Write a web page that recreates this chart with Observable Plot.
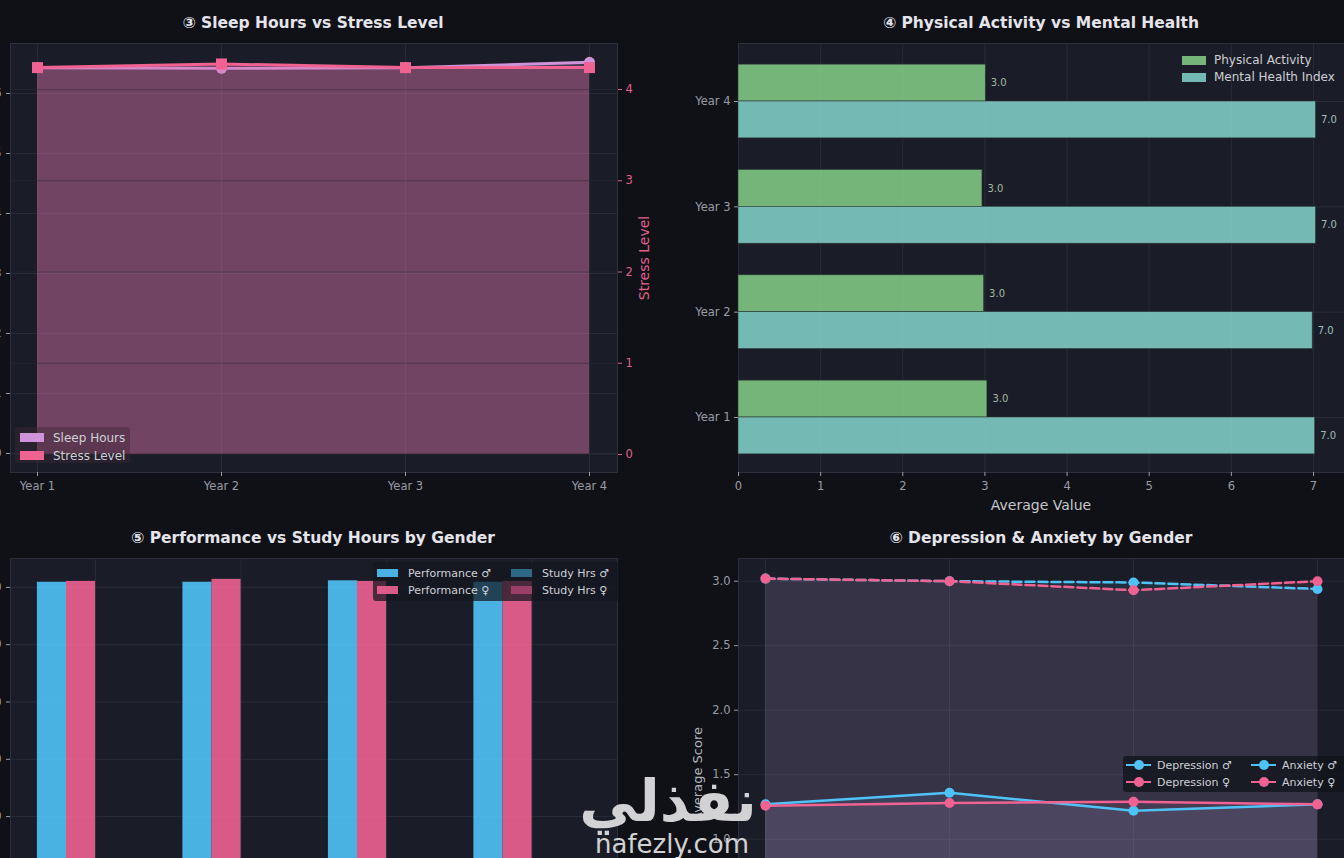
<!DOCTYPE html>
<html><head><meta charset="utf-8">
<script src="https://cdn.jsdelivr.net/npm/d3@7"></script>
<script src="https://cdn.jsdelivr.net/npm/@observablehq/plot@0.6"></script>
<style>
body{margin:0;background:#0f1117;width:1344px;height:858px;overflow:hidden;position:relative;font-family:"DejaVu Sans",sans-serif}
.t{position:absolute;white-space:nowrap;line-height:1}
.title{transform:translate(-50%,-50%);color:#e4e4ea;font-weight:bold;font-size:15.5px}
.lab{transform:translateY(-50%);color:#cfd0d6;font-size:12px}
.box{position:absolute}
</style></head><body>
<script>
// ---------- data ----------
const years = ["Year 1", "Year 2", "Year 3", "Year 4"];
const sleepHours = [6.43, 6.42, 6.43, 6.52];
const stressLevel = [4.24, 4.28, 4.24, 4.24];
const sleepTicks = [0, 1, 2, 3, 4, 5, 6];
const stressTicks = [0, 1, 2, 3, 4];

const physicalActivity = [3.03, 2.99, 2.97, 3.01];
const mentalHealthIndex = [7.02, 6.99, 7.03, 7.03];
const valueTicks = [0, 1, 2, 3, 4, 5, 6, 7];

const performanceMale = [70.9, 70.9, 71.15, 70.9];
const performanceFemale = [71.05, 71.4, 71.05, 71.05];
const performanceTicks = [30, 40, 50, 60, 70];

const depressionMale = [1.27, 1.36, 1.22, 1.27];
const depressionFemale = [1.26, 1.28, 1.29, 1.27];
const anxietyMale = [3.02, 3.0, 2.99, 2.94];
const anxietyFemale = [3.02, 3.0, 2.93, 3.0];
const scoreTicks = [1.0, 1.5, 2.0, 2.5, 3.0];

// ---------- style ----------
const AX_BG = "#1a1d27", FRAME = "#2c303c", GRID = "#2a2e3a";
const LAV = "#ce93d8", PINK = "#f06292", PINK_TXT = "#e0608a";
const GREEN = "#81c784", TEAL = "#80cbc4", BLUE = "#4fc3f7";
const base = {background: "transparent", color: "#9a9ca5", fontFamily: "DejaVu Sans", fontSize: "11.5px"};
const BAR_H = 0.35, BAR_W = 0.2;
const intFmt = d3.format("d");

function place(el, left, top) {
  el.style.position = "absolute"; el.style.left = left + "px"; el.style.top = top + "px";
  el.style.maxWidth = "none"; document.body.appendChild(el);
}
function text(x, y, s, cls, extra) {
  const d = document.createElement("div"); d.className = "t " + cls; d.textContent = s;
  d.style.left = x + "px"; d.style.top = y + "px"; if (extra) Object.assign(d.style, extra);
  document.body.appendChild(d); return d;
}
function rectDiv(x, y, w, h, bg, extra) {
  const d = document.createElement("div"); d.className = "box";
  Object.assign(d.style, {left: x + "px", top: y + "px", width: w + "px", height: h + "px", background: bg}, extra || {});
  document.body.appendChild(d); return d;
}
function lineSwatch(x, y, color) {
  rectDiv(x, y - 1.25, 25, 2.5, color);
  rectDiv(x + 8, y - 5, 10, 10, color, {borderRadius: "50%"});
}

// ---------- panel 3: Sleep vs Stress ----------
const sleepRows = years.map((year, i) => ({year, v: sleepHours[i]}));
const stressRows = years.map((year, i) => ({year, v: stressLevel[i]}));
const p1dims = {width: 672, height: 520, marginLeft: 10, marginRight: 55, marginTop: 43, marginBottom: 48, style: base};
const xYears = {type: "point", domain: years, range: [37, 589], padding: 0};

place(Plot.plot({
  ...p1dims,
  x: xYears,
  y: {domain: [0, 6.8333], range: [453, 43]},
  marks: [
    Plot.frame({fill: AX_BG, stroke: FRAME}),
    Plot.gridY(sleepTicks, {stroke: GRID, strokeOpacity: 0.9}),
    Plot.gridX(years, {stroke: GRID, strokeOpacity: 0.9}),
    Plot.areaY(sleepRows, {x: "year", y: "v", fill: LAV, fillOpacity: 0.25}),
    Plot.axisY(sleepTicks, {anchor: "left", tickSize: 4, tickFormat: intFmt, label: null}),
    Plot.axisX(years, {anchor: "bottom", tickSize: 4, tickPadding: 5, label: null}),
    Plot.lineY(sleepRows, {x: "year", y: "v", stroke: LAV, strokeWidth: 3}),
    Plot.dot(sleepRows, {x: "year", y: "v", fill: LAV, r: 5.5, symbol: "circle"})
  ]
}), 0, 0);

place(Plot.plot({
  ...p1dims,
  x: {...xYears, axis: null},
  y: {domain: [0, 4], range: [454, 89]},
  marks: [
    Plot.areaY(stressRows, {x: "year", y: "v", fill: PINK, fillOpacity: 0.25}),
    Plot.gridY(stressTicks, {stroke: GRID, strokeOpacity: 0.45}),
    Plot.axisY(stressTicks, {anchor: "right", color: PINK_TXT, tickSize: 4, tickPadding: 4, tickFormat: intFmt, label: null}),
    Plot.lineY(stressRows, {x: "year", y: "v", stroke: PINK, strokeWidth: 3}),
    Plot.dot(stressRows, {x: "year", y: "v", fill: PINK, r: 6.2, symbol: "square"})
  ]
}), 0, 0);

text(313, 24, "③ Sleep Hours vs Stress Level", "title");
text(644, 258, "Stress Level", "", {color: PINK_TXT, fontSize: "14px", transform: "translate(-50%,-50%) rotate(-90deg)"});
rectDiv(15, 427, 115, 36, "rgba(62,40,54,0.42)", {borderRadius: "3px"});
rectDiv(20, 433, 24, 9, LAV);
rectDiv(20, 451, 24, 9, PINK);
text(53, 438, "Sleep Hours", "lab");
text(53, 456, "Stress Level", "lab");

// ---------- panel 4: Physical Activity vs Mental Health ----------
const actRows = years.map((year, i) => ({i, year, pa: physicalActivity[i], mh: mentalHealthIndex[i]}));
const yearIdx = years.map((_, i) => i);
place(Plot.plot({
  width: 672, height: 520, marginLeft: 66, marginRight: 0, marginTop: 43, marginBottom: 48, style: base,
  x: {domain: [0, 7], range: [66, 641]},
  y: {domain: [0, 3], range: [417, 101]},
  marks: [
    Plot.frame({fill: AX_BG, stroke: FRAME}),
    Plot.gridX(valueTicks, {stroke: GRID, strokeOpacity: 0.9}),
    Plot.gridY(yearIdx, {stroke: GRID, strokeOpacity: 0.9}),
    Plot.rect(actRows, {x1: () => 0, x2: "pa", y1: d => d.i, y2: d => d.i + BAR_H, fill: GREEN, fillOpacity: 0.9, stroke: "#2b3a33", strokeWidth: 0.6}),
    Plot.rect(actRows, {x1: () => 0, x2: "mh", y1: d => d.i - BAR_H, y2: d => d.i, fill: TEAL, fillOpacity: 0.9, stroke: "#2b3a3a", strokeWidth: 0.6}),
    Plot.text(actRows, {x: "pa", y: d => d.i + BAR_H / 2, text: d => d.pa.toFixed(1), dx: 5, textAnchor: "start", fill: "#a3b7a3", fontSize: 10}),
    Plot.text(actRows, {x: "mh", y: d => d.i - BAR_H / 2, text: d => d.mh.toFixed(1), dx: 5, textAnchor: "start", fill: "#9fbebb", fontSize: 10}),
    Plot.axisX(valueTicks, {anchor: "bottom", tickSize: 4, tickPadding: 5, tickFormat: intFmt, label: null}),
    Plot.axisY(yearIdx, {anchor: "left", tickSize: 4, tickPadding: 4, tickFormat: i => years[i], label: null})
  ]
}), 672, 0);

text(1041, 24, "④ Physical Activity vs Mental Health", "title");
text(1041, 505, "Average Value", "", {color: "#c6c8ce", fontSize: "14px", transform: "translate(-50%,-50%)"});
rectDiv(1182, 56, 24, 9, GREEN, {opacity: 0.9});
rectDiv(1182, 73, 24, 9, TEAL, {opacity: 0.9});
text(1214, 60, "Physical Activity", "lab");
text(1214, 77, "Mental Health Index", "lab");

// ---------- panel 5: Performance by Gender ----------
const perfRows = years.map((year, i) => ({i, year, m: performanceMale[i], f: performanceFemale[i]}));
place(Plot.plot({
  width: 672, height: 500, marginLeft: 10, marginRight: 55, marginTop: 38, marginBottom: 40, style: base,
  x: {domain: [0, 3], range: [66, 502.5], axis: null},
  y: {domain: [0, 80], range: [468, 9.6]},
  marks: [
    Plot.frame({fill: AX_BG, stroke: FRAME}),
    Plot.gridY(performanceTicks, {stroke: GRID, strokeOpacity: 0.9}),
    Plot.gridX(yearIdx.map(i => i + BAR_W), {stroke: GRID, strokeOpacity: 0.9}),
    Plot.rect(perfRows, {x1: d => d.i - BAR_W, x2: d => d.i, y1: () => 0, y2: "m", fill: BLUE, fillOpacity: 0.9}),
    Plot.rect(perfRows, {x1: d => d.i, x2: d => d.i + BAR_W, y1: () => 0, y2: "f", fill: PINK, fillOpacity: 0.9}),
    Plot.axisY(performanceTicks, {anchor: "left", tickSize: 4, tickFormat: intFmt, label: null})
  ]
}), 0, 520);

text(313, 539, "⑤ Performance vs Study Hours by Gender", "title");
rectDiv(373, 562, 246, 39, "rgba(20,22,32,0.72)", {borderRadius: "3px"});
rectDiv(377, 569, 21, 8, BLUE, {opacity: 0.9});
rectDiv(377, 586, 21, 8, PINK, {opacity: 0.9});
rectDiv(511, 569, 21, 8, "#2d6886");
rectDiv(511, 586, 21, 8, "#9a3f66");
text(408, 573, "Performance ♂", "lab", {fontSize: "11px"});
text(408, 590, "Performance ♀", "lab", {fontSize: "11px"});
text(542, 573, "Study Hrs ♂", "lab", {fontSize: "11px"});
text(542, 590, "Study Hrs ♀", "lab", {fontSize: "11px"});

// ---------- panel 6: Depression & Anxiety ----------
const series = [
  {name: "Depression ♂", values: depressionMale, color: BLUE, dash: null},
  {name: "Depression ♀", values: depressionFemale, color: PINK, dash: null},
  {name: "Anxiety ♂", values: anxietyMale, color: BLUE, dash: "9,4"},
  {name: "Anxiety ♀", values: anxietyFemale, color: PINK, dash: "9,4"}
];
const seriesMarks = [];
for (const s of series) {
  const rows = s.values.map((v, i) => ({i, v}));
  seriesMarks.push(Plot.areaY(rows, {x: "i", y: "v", fill: s.color, fillOpacity: 0.11}));
}
for (const s of series) {
  const rows = s.values.map((v, i) => ({i, v}));
  seriesMarks.push(Plot.lineY(rows, {x: "i", y: "v", stroke: s.color, strokeWidth: 2.5, strokeDasharray: s.dash}));
  seriesMarks.push(Plot.dot(rows, {x: "i", y: "v", fill: s.color, r: 5}));
}
place(Plot.plot({
  width: 672, height: 500, marginLeft: 66, marginRight: 0, marginTop: 38, marginBottom: 40, style: base,
  x: {domain: [0, 3], range: [93, 645], axis: null},
  y: {domain: [1, 3], range: [318.7, 60.7]},
  marks: [
    Plot.frame({fill: AX_BG, stroke: FRAME}),
    Plot.gridX(yearIdx, {stroke: GRID, strokeOpacity: 0.9}),
    Plot.gridY(scoreTicks, {stroke: GRID, strokeOpacity: 0.9}),
    ...seriesMarks,
    Plot.axisY(scoreTicks, {anchor: "left", tickSize: 4, tickPadding: 4, tickFormat: d3.format(".1f"), label: null})
  ]
}), 672, 520);

text(1041, 539, "⑥ Depression & Anxiety by Gender", "title");
text(697, 774, "Average Score", "", {color: "#b4b6bc", fontSize: "13px", transform: "translate(-50%,-50%) rotate(-90deg)"});
rectDiv(1123, 756, 230, 36, "rgba(18,20,28,0.8)", {borderRadius: "3px"});
lineSwatch(1126, 765, BLUE);
lineSwatch(1126, 782, PINK);
lineSwatch(1251, 765, BLUE);
lineSwatch(1251, 782, PINK);
text(1157, 765, series[0].name, "lab", {fontSize: "11px"});
text(1157, 782, series[1].name, "lab", {fontSize: "11px"});
text(1282, 765, series[2].name, "lab", {fontSize: "11px"});
text(1282, 782, series[3].name, "lab", {fontSize: "11px"});

// ---------- watermark ----------
text(668, 801, "نفذلي", "", {color: "#d2d2d4", fontSize: "58px", fontWeight: "bold", transform: "translate(-50%,-50%)", direction: "rtl"});
text(672, 844, "nafezly.com", "", {color: "#d2d2d4", fontSize: "26px", transform: "translate(-50%,-50%)"});
</script>
</body></html>
